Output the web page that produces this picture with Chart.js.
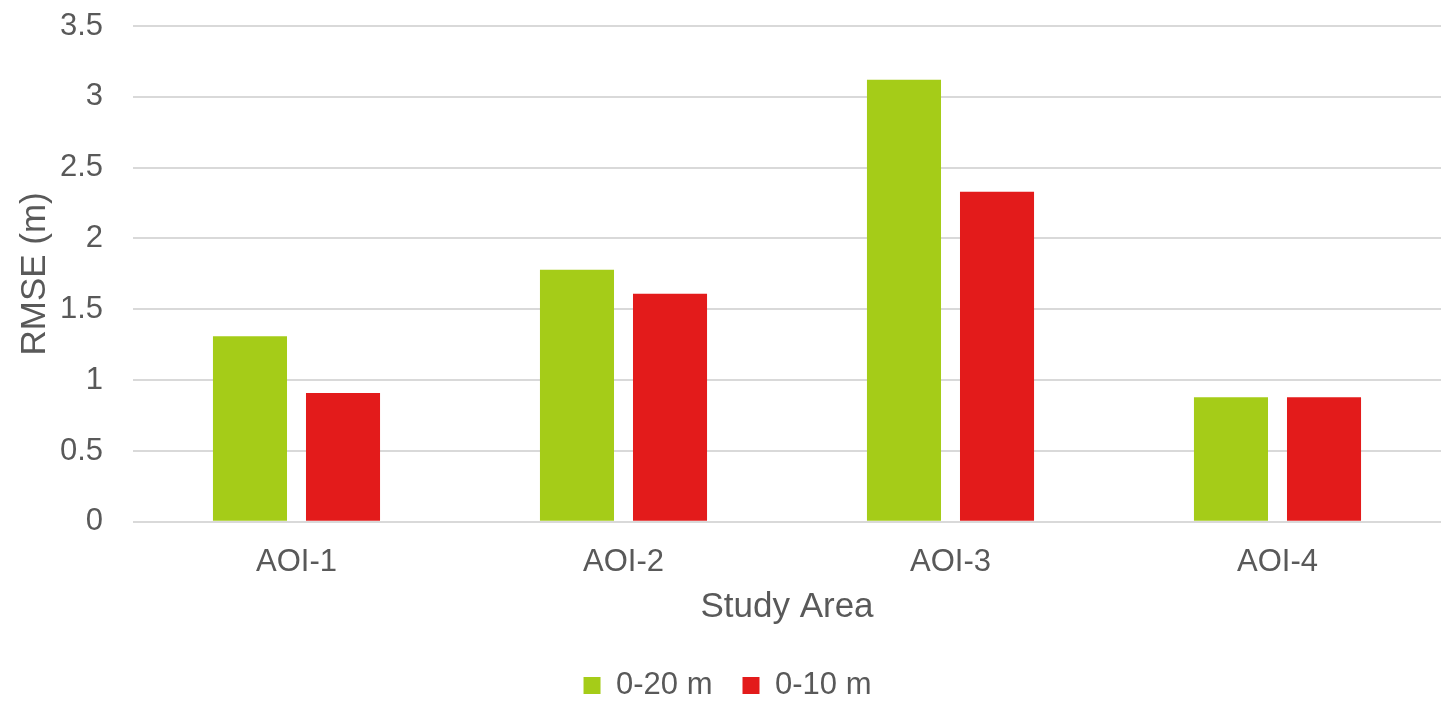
<!DOCTYPE html>
<html>
<head>
<meta charset="utf-8">
<script src="https://cdn.jsdelivr.net/npm/chart.js@4"></script>
<style>
  body { margin: 0; background: #fff; }
</style>
</head>
<body>
<canvas id="rmseChart" width="1441" height="701"></canvas>
<script>
const areas = ["AOI-1", "AOI-2", "AOI-3", "AOI-4"];
const rmse20 = [1.31, 1.78, 3.12, 0.88];
const rmse10 = [0.91, 1.61, 2.33, 0.88];

const textColor = "#595959";
const fontFamily = "'Liberation Sans', Arial, sans-serif";

new Chart(document.getElementById("rmseChart"), {
  type: "bar",
  data: {
    labels: areas,
    datasets: [
      {
        label: "0-20 m",
        data: rmse20,
        backgroundColor: "#a5cc18",
        categoryPercentage: 0.569,
        barPercentage: 0.796,
      },
      {
        label: "0-10 m",
        data: rmse10,
        backgroundColor: "#e31b1b",
        categoryPercentage: 0.569,
        barPercentage: 0.796,
      },
    ],
  },
  options: {
    responsive: false,
    animation: false,
    layout: {
      padding: { top: 0, right: 0, bottom: -10, left: 14 },
    },
    plugins: {
      legend: {
        position: "bottom",
        labels: {
          boxWidth: 17,
          boxHeight: 17,
          color: textColor,
          font: { family: fontFamily, size: 31 },
          padding: 30,
        },
      },
      tooltip: { enabled: false },
    },
    scales: {
      x: {
        grid: { display: false, drawTicks: false },
        border: { display: false },
        ticks: {
          color: textColor,
          font: { family: fontFamily, size: 31 },
          padding: 22,
        },
        title: {
          display: true,
          text: "Study Area",
          color: textColor,
          font: { family: fontFamily, size: 35 },
          padding: { top: -17, bottom: 12 },
        },
      },
      y: {
        min: 0,
        max: 3.5,
        afterFit: (scale) => {
          scale.width = 119; // axis line ends up at x = 133
          scale.paddingTop = 26; // top gridline at y = 26
        },
        ticks: {
          stepSize: 0.5,
          color: textColor,
          font: { family: fontFamily, size: 31 },
          padding: 30,
          callback: (value) => String(value),
        },
        grid: { color: "#d9d9d9", lineWidth: 2, drawTicks: false },
        border: { display: false },
        title: {
          display: true,
          text: "RMSE (m)",
          color: textColor,
          font: { family: fontFamily, size: 35 },
          padding: { top: 0, bottom: 8 },
        },
      },
    },
  },
});
</script>
</body>
</html>
